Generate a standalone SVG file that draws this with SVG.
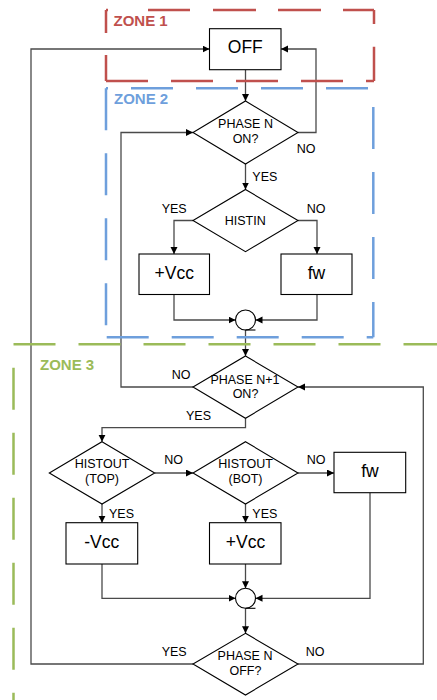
<svg xmlns="http://www.w3.org/2000/svg" width="437" height="700" viewBox="0 0 437 700">
<style>
text{font-family:"Liberation Sans",Arial,sans-serif;fill:#000;stroke:none}
.box{fill:#fff;stroke:#000;stroke-width:1.1}
.big{font-size:17.5px;text-anchor:middle}
.dt{font-size:12.5px;text-anchor:middle}
.lb{font-size:12.5px}
.c{fill:none;stroke:#4a4a4a;stroke-width:1.3}
.zone{fill:none;stroke-width:2.5;stroke-dasharray:42 23}
.zt{font-size:15px;font-weight:bold}
.z1{fill:#c0504d}
.z2{fill:#6e9fdc}
.z3{fill:#9bbb59}
</style>
<defs>
<marker id="ah" markerUnits="userSpaceOnUse" markerWidth="8" markerHeight="8" refX="7" refY="3.5" orient="auto">
<path d="M0,0 L7,3.5 L0,7 z" fill="#000"/>
</marker>
</defs>
<rect width="437" height="700" fill="#fff"/>
<g id="connectors">
<path class="c" d="M245.5,70 V101" marker-end="url(#ah)"/>
<path class="c" d="M298,132.5 H316 V49 H281" marker-end="url(#ah)"/>
<path class="c" d="M245.5,164 V189.5" marker-end="url(#ah)"/>
<path class="c" d="M193,220.5 H174 V254" marker-end="url(#ah)"/>
<path class="c" d="M298,220.5 H317 V254" marker-end="url(#ah)"/>
<path class="c" d="M174,294.5 V320 H235.5" marker-end="url(#ah)"/>
<path class="c" d="M317,294.5 V320 H255.5" marker-end="url(#ah)"/>
<path class="c" d="M245.5,330 V356" marker-end="url(#ah)"/>
<path class="c" d="M193,387 H121 V132.5 H193" marker-end="url(#ah)"/>
<path class="c" d="M245.5,418.3 V427.7 H102 V441.7" marker-end="url(#ah)"/>
<path class="c" d="M154.7,473 H193" marker-end="url(#ah)"/>
<path class="c" d="M298,473 H334" marker-end="url(#ah)"/>
<path class="c" d="M102,504 V522.7" marker-end="url(#ah)"/>
<path class="c" d="M245.5,504 V522.7" marker-end="url(#ah)"/>
<path class="c" d="M102,564 V598.3 H235.5" marker-end="url(#ah)"/>
<path class="c" d="M245.5,564 V588.3" marker-end="url(#ah)"/>
<path class="c" d="M370,492.7 V598.3 H255.5" marker-end="url(#ah)"/>
<path class="c" d="M245.5,608.3 V633.3" marker-end="url(#ah)"/>
<path class="c" d="M193,664 H31 V49 H209.5" marker-end="url(#ah)"/>
<path class="c" d="M298,664 H423.3 V387 H298" marker-end="url(#ah)"/>
</g>
<g id="off"><rect class="box" x="209.5" y="28.7" width="71.5" height="41"/><text class="big" x="245.3" y="53.3">OFF</text></g>
<g id="phase-n-on"><polygon class="box" points="245.5,101 298,132.5 245.5,164 193,132.5"/><text class="dt" x="245.5" y="128.3">PHASE N</text><text class="dt" x="245.5" y="143.3">ON?</text></g>
<g id="histin"><polygon class="box" points="245.5,189.5 298,220.5 245.5,251.7 193,220.5"/><text class="dt" x="245.2" y="225">HISTIN</text></g>
<g id="vcc-plus-1"><rect class="box" x="139" y="254" width="70.5" height="40.5"/><text class="big" x="174.2" y="279">+Vcc</text></g>
<g id="fw-1"><rect class="box" x="281" y="254" width="71" height="40.5"/><text class="big" x="316.5" y="279">fw</text></g>
<g id="merge-1"><circle cx="245.5" cy="320" r="10" fill="#fff" stroke="#000" stroke-width="1.1"/><line x1="245.5" y1="330" x2="255.5" y2="330" stroke="#000" stroke-width="1.1"/></g>
<g id="phase-n1-on"><polygon class="box" points="245.5,356 298,387 245.5,418.3 193,387"/><text class="dt" x="245" y="384">PHASE N+1</text><text class="dt" x="245.5" y="398.3">ON?</text></g>
<g id="histout-top"><polygon class="box" points="102,441.7 154.7,473 102,504 49.3,473"/><text class="dt" x="102" y="468.3">HISTOUT</text><text class="dt" x="102" y="483.3">(TOP)</text></g>
<g id="histout-bot"><polygon class="box" points="245.5,441.7 298,473 245.5,504 193,473"/><text class="dt" x="245.5" y="468.3">HISTOUT</text><text class="dt" x="245.5" y="483.3">(BOT)</text></g>
<g id="fw-2"><rect class="box" x="334" y="452.3" width="71.7" height="40.4"/><text class="big" x="370" y="477.3">fw</text></g>
<g id="vcc-minus"><rect class="box" x="66" y="522.7" width="71.7" height="41.3"/><text class="big" x="101.7" y="548.3">-Vcc</text></g>
<g id="vcc-plus-2"><rect class="box" x="209.5" y="522.7" width="71.5" height="41.3"/><text class="big" x="245.5" y="548.3">+Vcc</text></g>
<g id="merge-2"><circle cx="245.5" cy="598.3" r="10" fill="#fff" stroke="#000" stroke-width="1.1"/><line x1="245.5" y1="608.3" x2="255.5" y2="608.3" stroke="#000" stroke-width="1.1"/></g>
<g id="phase-n-off"><polygon class="box" points="245.5,633.3 298,664 245.5,695 193,664"/><text class="dt" x="245" y="660">PHASE N</text><text class="dt" x="245.5" y="675">OFF?</text></g>
<g id="labels">
<text class="lb" x="296.7" y="153.3">NO</text>
<text class="lb" x="252.3" y="180.5">YES</text>
<text class="lb" x="161.7" y="213.3">YES</text>
<text class="lb" x="306.7" y="213.3">NO</text>
<text class="lb" x="171.7" y="379.3">NO</text>
<text class="lb" x="186" y="420">YES</text>
<text class="lb" x="164.3" y="464.3">NO</text>
<text class="lb" x="306.7" y="464.3">NO</text>
<text class="lb" x="109" y="517.5">YES</text>
<text class="lb" x="252.3" y="517.5">YES</text>
<text class="lb" x="161.7" y="656">YES</text>
<text class="lb" x="305.7" y="656">NO</text>
</g>
<g id="zone-1" stroke="#c0504d">
<line class="zone" x1="106" y1="10" x2="374" y2="10" style="stroke-dasharray:2 40 42 23 43 22 43 22 60"/>
<line class="zone" x1="374" y1="10" x2="374" y2="81" style="stroke-dasharray:14 22.7 40"/>
<line class="zone" x1="374" y1="81" x2="106" y2="81" style="stroke-dashoffset:34"/>
<line class="zone" x1="106" y1="10" x2="106" y2="81" style="stroke-dasharray:23 22 40"/>
<text class="zt z1" x="113.5" y="26">ZONE 1</text>
</g>
<g id="zone-2" stroke="#6e9fdc">
<line class="zone" x1="106" y1="88.3" x2="373.3" y2="88.3" style="stroke-dashoffset:40"/>
<line class="zone" x1="373.3" y1="88.3" x2="373.3" y2="337.3" style="stroke-dashoffset:46.3"/>
<line class="zone" x1="373.3" y1="337.3" x2="106" y2="337.3" style="stroke-dashoffset:35.4"/>
<line class="zone" x1="106" y1="88.3" x2="106" y2="337.3"/>
<text class="zt z2" x="114" y="104">ZONE 2</text>
</g>
<g id="zone-3" stroke="#9bbb59">
<line class="zone" x1="13.5" y1="344.3" x2="440" y2="344.3"/>
<line class="zone" x1="13.5" y1="367.7" x2="13.5" y2="705"/>
<text class="zt z3" x="40" y="370">ZONE 3</text>
</g>
</svg>
